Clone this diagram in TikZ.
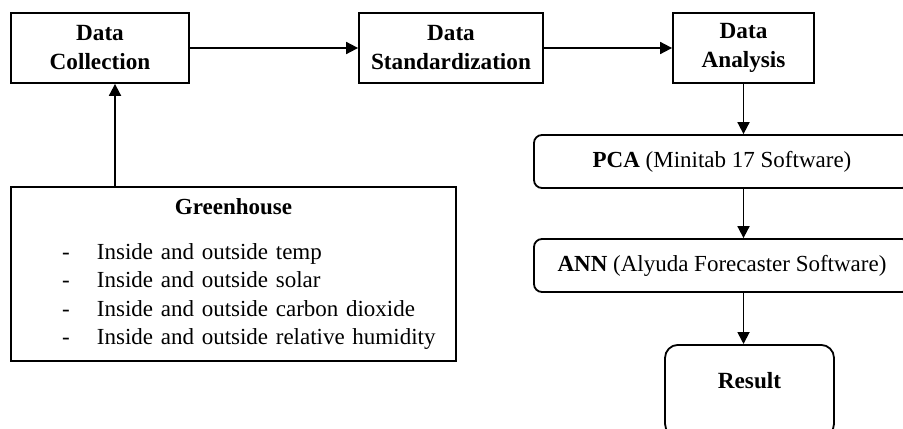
\documentclass[tikz,border=0pt]{standalone}
\usepackage{fontspec}
\setmainfont{Liberation Serif}
\usetikzlibrary{arrows.meta, positioning}

\begin{document}
\begin{tikzpicture}[x=0.5pt, y=-0.5pt, line width=0.9pt,
    font=\fontsize{11.5}{14.25}\selectfont,
    arr/.style={-{Triangle[length=6pt, width=6pt]}},
    databox/.style={draw, align=center, font=\fontsize{11.6}{14.5}\selectfont\bfseries,
      minimum height=35pt, inner sep=0pt},
    softbox/.style={draw, rounded corners=4pt, minimum width=188pt,
      minimum height=26.5pt, inner sep=0pt}]
      \useasboundingbox (0,0) rectangle (903,428);
      \clip (0,0) rectangle (903,428);

      % Top row of boxes.
      \node[databox, minimum width=89pt]
        (coll) at (100,48)
        {Data\\Collection};
      \node[databox, minimum width=92pt]
        (stand) at (451,48)
        {Data\\Standardization};
      \node[databox, minimum width=70.5pt]
        (anal) at (743.5,48)
        {Data\\Analysis};

      % Source of the data.
      \node[draw, minimum width=222.5pt, minimum height=87pt, text width=222.5pt,
            inner xsep=0pt, inner ysep=0pt]
        (green) at (233.5,274)
        {{\centering\textbf{Greenhouse}\par}\vspace{8.25pt}%
         {\raggedright\leftskip=25.5pt
          \makebox[17.5pt][l]{-}Inside and outside temp\\
          \makebox[17.5pt][l]{-}Inside and outside solar\\
          \makebox[17.5pt][l]{-}Inside and outside carbon dioxide\\
          \makebox[17.5pt][l]{-}Inside and outside relative humidity\par}};
      \coordinate (gin) at (115,187);

      % Analysis steps, right column.
      \node[softbox]
        (pca) at (722,161.5)
        {\textbf{PCA} (Minitab 17 Software)};
      \node[softbox]
        (ann) at (722,265.5)
        {\textbf{ANN} (Alyuda Forecaster Software)};
      \node[draw, rounded corners=6.5pt, anchor=north, minimum width=84.5pt,
            inner ysep=0pt, text height=22pt, text depth=24pt, font=\fontsize{11.6}{14}\selectfont\bfseries]
        (result) at (749.5,344)
        {Result};

      % Connect the boxes.
      \draw[arr] (coll) -- (stand);
      \draw[arr] (stand) -- (anal);
      \draw[arr] (gin) -- (gin |- coll.south);
      \draw[arr] (anal.south) -- (anal.south |- pca.north);
      \draw[arr] (anal.south |- pca.south) -- (anal.south |- ann.north);
      \draw[arr] (anal.south |- ann.south) -- (anal.south |- result.north);
    \end{tikzpicture}
\end{document}
